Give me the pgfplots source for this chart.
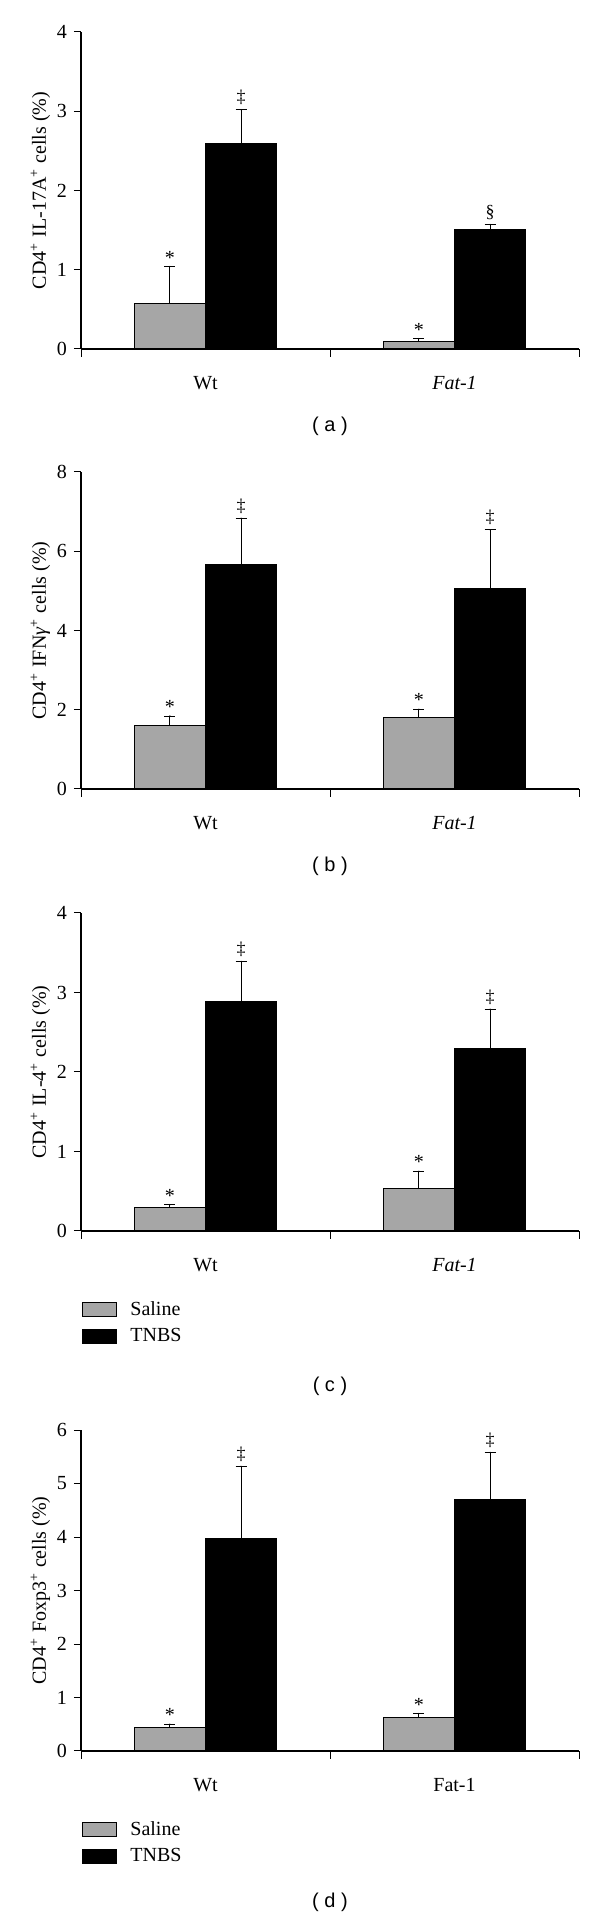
\documentclass[border=0pt]{standalone}
\usepackage{fontspec}
\setmainfont{Liberation Serif}
\setsansfont{Liberation Sans}
\usepackage{pgfplots}
\pgfplotsset{compat=1.18}
\definecolor{salgray}{RGB}{166,166,166}
\newcommand{\fs}{\fontsize{10}{12}\selectfont}
\pgfplotsset{
  panel/.style={
    scale only axis, width=249pt,
    xmin=0, xmax=2, ymin=0,
    axis x line=bottom, axis y line=left,
    axis line style={-, line width=0.6pt, black},
    tick align=outside,
    xtick={0.5,1.5},
    major x tick style={draw=none},
    minor xtick={0,1,2},
    minor tick length=4pt,
    major tick length=3.5pt,
    every tick/.style={black, line width=0.5pt},
    /pgf/number format/assume math mode=true,
    tick label style={font=\fs},
    xticklabel style={anchor=base, yshift=-17pt},
    ylabel style={at={(axis description cs:-0.0703,0.5)}, anchor=base, font=\fs},
    xlabel style={at={(axis description cs:0.5,0)}, anchor=center, yshift=-38.5pt, font=\sffamily\fs},
    legend style={at={(axis description cs:0,0)}, anchor=north west, xshift=0.5pt, yshift=-35pt,
      draw=none, fill=none, inner sep=0pt, row sep=5pt, column sep=6.5pt, font=\fs,
      nodes={inner sep=0pt}},
    legend cell align=left,
  },
  sal/.style={ybar, bar width=0.286, bar shift=0pt, fill=salgray, draw=black, line width=0.5pt,
    legend image code/.code={\draw[fill=salgray, draw=black, line width=0.5pt] (0pt,-3.5pt) rectangle (17pt,3.5pt);},
    error bars/.cd, y dir=plus, y explicit, error bar style={line width=0.5pt, black},
    error mark=|, error mark options={line width=0.5pt, mark size=2.75pt, black}},
  tnb/.style={ybar, bar width=0.286, bar shift=0pt, fill=black, draw=black, line width=0.5pt,
    legend image code/.code={\draw[fill=black, draw=black, line width=0.5pt] (0pt,-3.5pt) rectangle (17pt,3.5pt);},
    error bars/.cd, y dir=plus, y explicit, error bar style={line width=0.5pt, black},
    error mark=|, error mark options={line width=0.5pt, mark size=2.75pt, black}},
  star/.style={forget plot, only marks, mark=*, mark size=0.1pt, mark options={draw=none, fill=none},
    nodes near coords, point meta=explicit symbolic,
    every node near coord/.append style={anchor=south, inner sep=1pt, font=\fs, text=black}},
  dag/.style={forget plot, only marks, mark=*, mark size=0.1pt, mark options={draw=none, fill=none},
    nodes near coords, point meta=explicit symbolic,
    every node near coord/.append style={anchor=south, inner sep=2.3pt, font=\fontsize{9}{11}\selectfont, text=black}},
}
\begin{document}
\begin{tikzpicture}
\path[use as bounding box] (0,0) rectangle (300pt,960.5pt);
% (a)
\begin{axis}[panel, at={(40.5pt,786pt)}, anchor=south west, height=158.5pt,
  ymax=4, ytick={0,1,2,3,4},
  xticklabels={Wt,\textit{Fat-1}},
  ylabel={CD4\textsuperscript{+} IL-17A\textsuperscript{+} cells (\%)},
  xlabel={( a )}]
\addplot[sal] coordinates {(0.357,0.57) +- (0,0.47) (1.357,0.10) +- (0,0.03)};
\addplot[tnb] coordinates {(0.643,2.59) +- (0,0.43) (1.643,1.51) +- (0,0.06)};
\addplot[star] coordinates {(0.357,1.04) [*] (1.357,0.13) [*]};
\addplot[dag] coordinates {(0.643,3.02) [‡] (1.643,1.57) [§]};
\end{axis}
% (b)
\begin{axis}[panel, at={(40.5pt,566pt)}, anchor=south west, height=158.5pt,
  ymax=8, ytick={0,2,4,6,8},
  xticklabels={Wt,\textit{Fat-1}},
  ylabel={CD4\textsuperscript{+} IFN\textit{γ}\textsuperscript{+} cells (\%)},
  xlabel={( b )}]
\addplot[sal] coordinates {(0.357,1.60) +- (0,0.24) (1.357,1.81) +- (0,0.20)};
\addplot[tnb] coordinates {(0.643,5.66) +- (0,1.17) (1.643,5.06) +- (0,1.48)};
\addplot[star] coordinates {(0.357,1.84) [*] (1.357,2.01) [*]};
\addplot[dag] coordinates {(0.643,6.83) [‡] (1.643,6.54) [‡]};
\end{axis}
% (c)
\begin{axis}[panel, at={(40.5pt,345pt)}, anchor=south west, height=159pt,
  ymax=4, ytick={0,1,2,3,4},
  xticklabels={Wt,\textit{Fat-1}},
  ylabel={CD4\textsuperscript{+} IL-4\textsuperscript{+} cells (\%)},
  xlabel={( c )}, xlabel style={yshift=-39pt}]
\addplot[sal] coordinates {(0.357,0.30) +- (0,0.03) (1.357,0.53) +- (0,0.22)};
\addlegendentry{Saline}
\addplot[tnb] coordinates {(0.643,2.89) +- (0,0.50) (1.643,2.29) +- (0,0.50)};
\addlegendentry{TNBS}
\addplot[star] coordinates {(0.357,0.33) [*] (1.357,0.75) [*]};
\addplot[dag] coordinates {(0.643,3.39) [‡] (1.643,2.79) [‡]};
\end{axis}
% (d)
\begin{axis}[panel, at={(40.5pt,85pt)}, anchor=south west, height=160.5pt,
  ymax=6, ytick={0,1,2,3,4,5,6},
  xticklabels={Wt,Fat-1},
  ylabel={CD4\textsuperscript{+} Foxp3\textsuperscript{+} cells (\%)},
  xlabel={( d )}, xlabel style={yshift=-37pt}]
\addplot[sal] coordinates {(0.357,0.435) +- (0,0.065) (1.357,0.63) +- (0,0.07)};
\addlegendentry{Saline}
\addplot[tnb] coordinates {(0.643,3.98) +- (0,1.34) (1.643,4.70) +- (0,0.88)};
\addlegendentry{TNBS}
\addplot[star] coordinates {(0.357,0.50) [*] (1.357,0.70) [*]};
\addplot[dag] coordinates {(0.643,5.32) [‡] (1.643,5.58) [‡]};
\end{axis}
\end{tikzpicture}
\end{document}
